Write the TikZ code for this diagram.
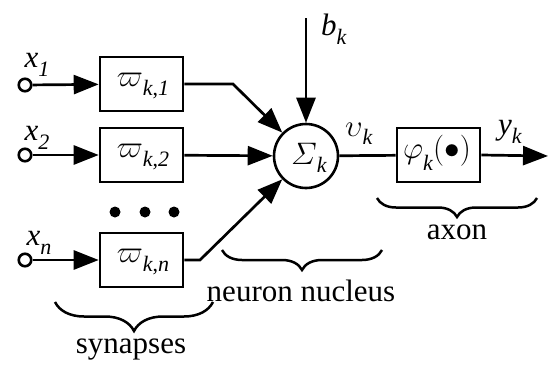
\documentclass[tikz,border=0pt]{standalone}
\usepackage{fontspec}
\setmainfont{Liberation Serif}
\usetikzlibrary{arrows.meta,decorations.pathreplacing}
\newcommand{\sbs}[1]{\raisebox{-0.6ex}{\fontsize{22}{22}\selectfont #1}}
\newcommand{\gk}[1]{\scalebox{1.25}{\fontsize{24.88}{28}\selectfont$#1$}}
\begin{document}
\begin{tikzpicture}[x=1pt,y=-1pt,
  wire/.style={line width=2.7pt},
  arr/.style={wire,-{Triangle[length=25pt,width=19pt]}},
  boxnode/.style={draw,line width=2.6pt,minimum width=83pt,minimum height=54pt,inner sep=0pt},
  inp/.style={draw,circle,line width=2.6pt,minimum size=12.5pt,inner sep=0pt,fill=white},
  lab/.style={inner sep=0pt,font=\fontsize{31}{34}\selectfont},
  txt/.style={inner sep=0pt,font=\fontsize{31}{34}\selectfont},
  brc/.style={line width=2.5pt,decorate,decoration={brace,mirror,amplitude=#1}}
]
\useasboundingbox (0,0) rectangle (548,364);
% inputs
\node[inp] (i1) at (25,85) {};
\node[inp] (i2) at (25,155) {};
\node[inp] (in) at (25,260) {};
% synapse boxes
\node[boxnode] (w1) at (141.5,84) {};
\node[boxnode] (w2) at (141.5,155) {};
\node[boxnode] (wn) at (141.5,260) {};
\node[lab] (w1t) at (143,86) {\gk{\varpi}\sbs{\textit{k},\textit{1}}};
\node[lab] (w2t) at (143,157) {\gk{\varpi}\sbs{\textit{k},\textit{2}}};
\node[lab] (wnt) at (143,262) {\gk{\varpi}\sbs{\textit{k},\textit{n}}};
% sum
\node[draw,circle,line width=2.6pt,minimum size=64pt,inner sep=0pt] (s) at (306,156) {};
\node[lab] (st) at (309,158) {\gk{\mathnormal{\Sigma}}\sbs{\textit{k}}};
% activation box
\node[boxnode] (phi) at (438.5,155) {};
\node[lab] (phit) at (437,153) {\gk{\varphi}\raisebox{-0.8ex}{\fontsize{22}{22}\selectfont\textit{k}}\gk{(\bullet)}};
% dots
\fill (115,212) circle (5.5pt) (145,212) circle (5.5pt) (174,212) circle (5.5pt);
% coordinates
\coordinate (c1) at (233,84);
\coordinate (cn) at (200,260);
\coordinate (btop) at (306,18);
\coordinate (yend) at (548,156);
% connectors
\draw[arr] (i1) -- (w1);
\draw[arr] (i2) -- (w2);
\draw[arr] (in) -- (wn);
\draw[arr] (w1.east) -- (c1) -- (s);
\draw[arr] (w2) -- (s);
\draw[arr] (wn.east) -- (cn) -- (s);
\draw[arr] (btop) -- (s);
\draw[wire] (s) -- (phi);
\draw[arr] (phi.east) -- (yend);
% labels
\node[lab] (x1) at (37,65) {\textit{x}\sbs{\textit{1}}};
\node[lab] (x2) at (37,138) {\textit{x}\sbs{\textit{2}}};
\node[lab] (xn) at (39,243) {\textit{x}\sbs{\textit{n}}};
\node[lab] (bk) at (334,29) {\textit{b}\sbs{\textit{k}}};
\node[lab] (vk) at (359,134) {\gk{\upsilon}\sbs{\textit{k}}};
\node[lab] (yk) at (510,132) {\textit{y}\sbs{\textit{k}}};
% braces
\coordinate (a1) at (377,198); \coordinate (a2) at (537,198);
\draw[brc=19pt] (a1) -- (a2);
\node[txt] (axon) at (457,232) {axon};
\coordinate (n1) at (222,250); \coordinate (n2) at (382,250);
\draw[brc=20pt] (n1) -- (n2);
\node[txt] (nuc) at (301,291) {neuron nucleus};
\coordinate (s1) at (55,302); \coordinate (s2) at (213,302);
\draw[brc=29pt] (s1) -- (s2);
\node[txt] (syn) at (131,350) {synapses};
\end{tikzpicture}
\end{document}
